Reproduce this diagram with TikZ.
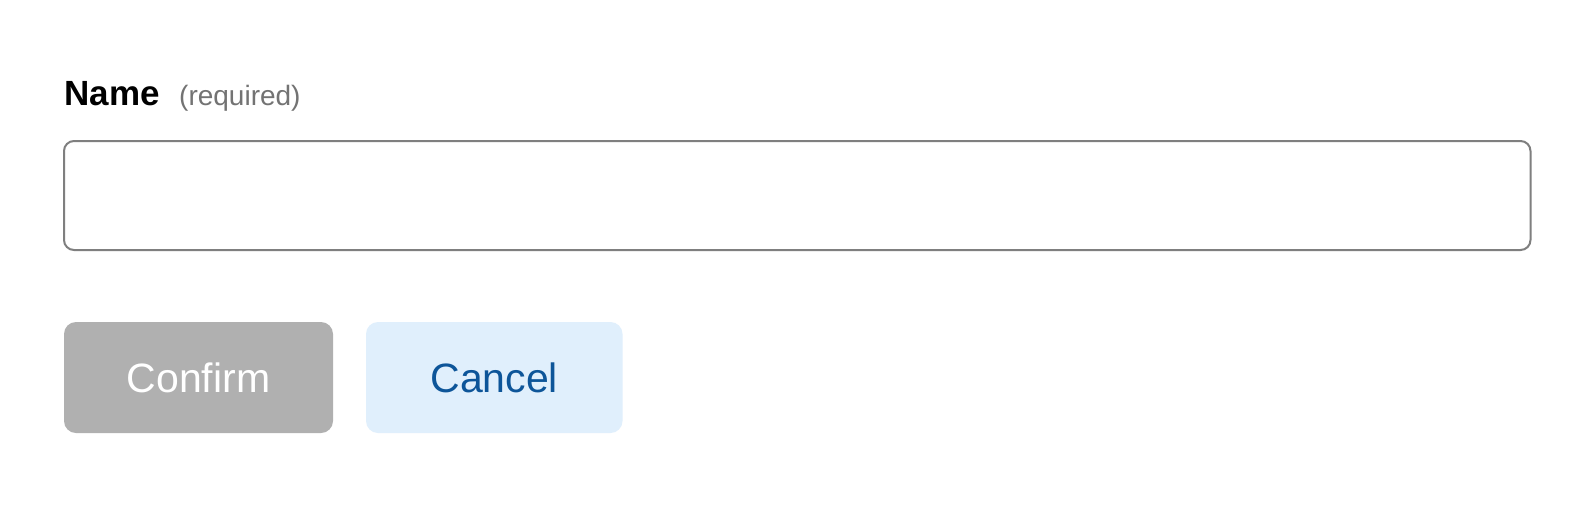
\documentclass[tikz,border=0pt]{standalone}
\usepackage{fontspec}
\setmainfont{Liberation Sans}
\definecolor{boxline}{HTML}{7F7F7F}
\definecolor{btngray}{HTML}{B0B0B0}
\definecolor{btnblue}{HTML}{E0EFFC}
\definecolor{txtblue}{HTML}{0D5599}
\definecolor{hintgray}{HTML}{737373}
\tikzset{
  field/.style={draw=boxline, line width=2pt, rounded corners=10pt, fill=white},
  btn/.style={rounded corners=12pt},
  btntext/.style={font=\fontsize{41}{49}\selectfont, anchor=base, inner sep=0pt}
}
\begin{document}
\begin{tikzpicture}[x=1pt,y=-1pt]
\useasboundingbox (0,0) rectangle (1596,504);
\fill[white] (0,0) rectangle (1596,504);
\node[anchor=base west, inner sep=0pt, font=\fontsize{35}{42}\selectfont\bfseries] (name) at (64.5,105) {Name};
\node[anchor=base west, inner sep=0pt, font=\fontsize{28}{34}\selectfont, text=hintgray] (req) at (179,105) {(required)};
\draw[field] (64,141) rectangle (1530.5,250) node[pos=0.5] (input) {};
\fill[btn, btngray] (64,322) rectangle (333,433) node[pos=0.5] (confirmbox) {};
\node[btntext, text=white] (confirm) at (198.5,392.5) {Confirm};
\fill[btn, btnblue] (366,322) rectangle (622.5,433) node[pos=0.5] (cancelbox) {};
\node[btntext, text=txtblue] (cancel) at (494.25,392.5) {Cancel};
\end{tikzpicture}
\end{document}
